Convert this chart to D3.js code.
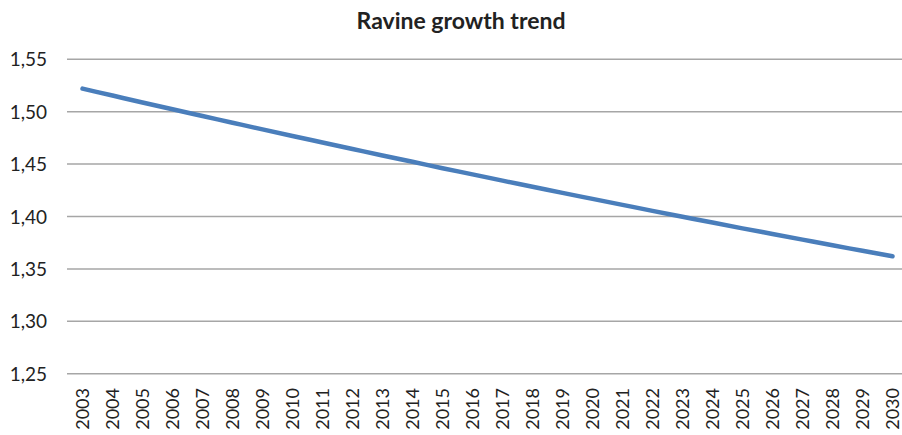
<!DOCTYPE html>
<html>
<head>
<meta charset="utf-8">
<script src="https://cdn.jsdelivr.net/npm/d3@7"></script>
<style>
  body { margin: 0; background: #fff; }
  text { font-family: Lato, "Open Sans", sans-serif; fill: #222; }
</style>
</head>
<body>
<svg id="chart" width="902" height="435"></svg>
<script>
var TITLE = "Ravine growth trend";
var years = ["2003", "2004", "2005", "2006", "2007", "2008", "2009", "2010", "2011", "2012",
             "2013", "2014", "2015", "2016", "2017", "2018", "2019", "2020", "2021", "2022",
             "2023", "2024", "2025", "2026", "2027", "2028", "2029", "2030"];
var values = [1.5220, 1.5154, 1.5088, 1.5023, 1.4959, 1.4895, 1.4831, 1.4768, 1.4706, 1.4644,
              1.4582, 1.4522, 1.4461, 1.4402, 1.4342, 1.4284, 1.4225, 1.4168, 1.4111, 1.4054,
              1.3998, 1.3942, 1.3887, 1.3833, 1.3779, 1.3725, 1.3673, 1.3620];
var yTicks = [1.25, 1.30, 1.35, 1.40, 1.45, 1.50, 1.55];

var svg = d3.select("#chart");

var x = d3.scalePoint()
    .domain(years)
    .range([67.5, 907.5])
    .padding(0.5);

var y = d3.scaleLinear()
    .domain([1.25, 1.55])
    .range([373.7, 59.3]);

var fmt = function(d) { return d3.format(".2f")(d).replace(".", ","); };

// gridlines
svg.append("g")
    .selectAll("line")
    .data(yTicks)
    .enter()
    .append("line")
    .attr("x1", 67)
    .attr("x2", 902)
    .attr("y1", function(d) { return y(d); })
    .attr("y2", function(d) { return y(d); })
    .attr("stroke", "#a6a6a6")
    .attr("stroke-width", 1.5);

// y axis labels
var yAxis = d3.axisLeft(y).tickValues(yTicks).tickFormat(fmt).tickSize(0).tickPadding(0);
var yg = svg.append("g")
    .attr("transform", "translate(47,0)")
    .call(yAxis);
yg.select(".domain").remove();
yg.selectAll("text")
    .attr("font-family", "Lato, 'Open Sans', sans-serif")
    .attr("font-size", 19)
    .attr("fill", "#222")
    .attr("dy", "0.35em");

// x axis labels, rotated
var xAxis = d3.axisBottom(x).tickSize(0).tickPadding(0);
var xg = svg.append("g")
    .attr("transform", "translate(0,388)")
    .call(xAxis);
xg.select(".domain").remove();
xg.selectAll("text")
    .attr("font-family", "Lato, 'Open Sans', sans-serif")
    .attr("font-size", 18)
    .attr("fill", "#222")
    .attr("text-anchor", "end")
    .attr("transform", "rotate(-90)")
    .attr("x", 0)
    .attr("y", 0)
    .attr("dy", "0.35em");

// the line
var line = d3.line()
    .x(function(d, i) { return x(years[i]); })
    .y(function(d) { return y(d); })
    .curve(d3.curveMonotoneX);

svg.append("path")
    .datum(values)
    .attr("d", line)
    .attr("fill", "none")
    .attr("stroke", "#4a7ebb")
    .attr("stroke-width", 4.5)
    .attr("stroke-linecap", "round")
    .attr("stroke-linejoin", "round");

// title
svg.append("text")
    .attr("x", 461)
    .attr("y", 29)
    .attr("text-anchor", "middle")
    .attr("font-size", 23)
    .attr("font-weight", "bold")
    .text(TITLE);
</script>
</body>
</html>
